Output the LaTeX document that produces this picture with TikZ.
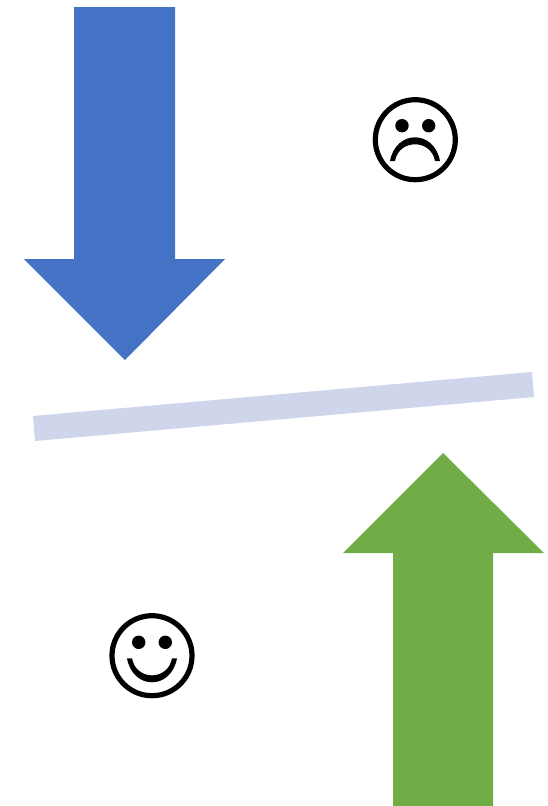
\documentclass[tikz,border=0pt]{standalone}
\definecolor{arrowblue}{RGB}{68,114,196}
\definecolor{arrowgreen}{RGB}{112,173,71}
\definecolor{barblue}{RGB}{207,213,234}
\tikzset{x=1pt,y=-1pt,
 face/.style={draw=black,line width=5.2pt,fill=white},
 feature/.style={fill=black}}
\begin{document}
\begin{tikzpicture}
\useasboundingbox (0,0) rectangle (547,806);
\fill[white] (0,0) rectangle (547,806);
\fill[arrowblue] (74,7) -- (175,7) -- (175,259) -- (225,259) -- (125,360) -- (24,259) -- (74,259) -- cycle;
\fill[arrowgreen] (393,806) -- (493,806) -- (493,553) -- (544,553) -- (443,453) -- (343,553) -- (393,553) -- cycle;
\fill[barblue] (33,416) -- (532,372) -- (534,397) -- (35,441) -- cycle;
% sad face
\draw[face] (415.3,139.7) circle (40);
\fill[feature] (402,125.7) circle (6.7);
\fill[feature] (428.7,125.7) circle (6.7);
\fill[feature] (390,161) .. controls (396,129.4) and (434,129.4) .. (440,161)
  -- (435,161) .. controls (431,138.7) and (399,138.7) .. (395,161) -- cycle;
% happy face
\draw[face] (152,655.7) circle (40);
\fill[feature] (138.7,642.3) circle (6.7);
\fill[feature] (165.3,642.3) circle (6.7);
\fill[feature] (127,658.3) .. controls (133,690.3) and (171,690.3) .. (177,658.3)
  -- (172,658.3) .. controls (168,681) and (136,681) .. (132,658.3) -- cycle;
\end{tikzpicture}
\end{document}
